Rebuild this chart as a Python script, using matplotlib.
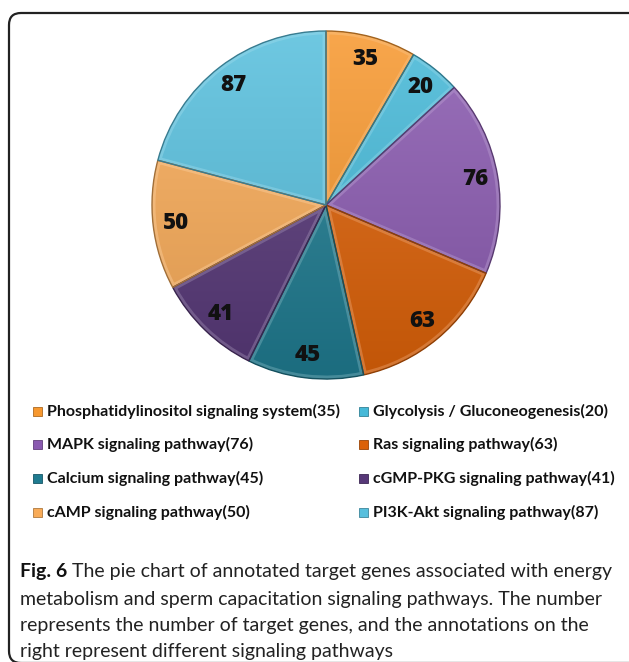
import matplotlib.pyplot as plt
import numpy as np
from matplotlib.patches import FancyBboxPatch, Rectangle, PathPatch
from matplotlib.colors import to_rgb

# pathways, gene counts and colours (clockwise from 12 o'clock)
pathways = ['Phosphatidylinositol signaling system', 'Glycolysis / Gluconeogenesis',
            'MAPK signaling pathway', 'Ras signaling pathway',
            'Calcium signaling pathway', 'cGMP-PKG signaling pathway',
            'cAMP signaling pathway', 'PI3K-Akt signaling pathway']
genes = [35, 20, 76, 63, 45, 41, 50, 87]
colors = ['#F7982F', '#46B9D8', '#8A5AB0', '#DC6108',
          '#1F7B90', '#573878', '#F8AB58', '#57BFDD']

caption_bold = 'Fig. 6'
caption = ['The pie chart of annotated target genes associated with energy',
           'metabolism and sperm capacitation signaling pathways. The number',
           'represents the number of target genes, and the annotations on the',
           'right represent different signaling pathways']

W, H = 629, 662
fig = plt.figure(figsize=(W / 100, H / 100), dpi=100)
ax = fig.add_axes([0, 0, 1, 1])

cx, cy, r = 326, H - 205, 174


def shade(c, f):
    c = np.array(to_rgb(c))
    if f > 0:
        return tuple(c + (1 - c) * f)
    return tuple(c * (1 + f))


wedges, _ = ax.pie(genes, colors=colors, startangle=90, counterclock=False,
                   center=(cx, cy), radius=r, frame=True,
                   wedgeprops=dict(edgecolor='none'))
ax.set_xlim(0, W)
ax.set_ylim(0, H)
ax.set_aspect('auto')
ax.axis('off')

# rounded frame, right side runs past the canvas
frame = FancyBboxPatch((9, -1), 640, H - 13 + 1, boxstyle='round,pad=0,rounding_size=12',
                       fc='none', ec='#222222', lw=1.6, zorder=0)
ax.add_patch(frame)

# vertical gradient inside each slice, plus a soft bevel on the edges
yy = np.linspace(0, 1, 200)[:, None]
for w, c, g in zip(wedges, colors, genes):
    top, bot = np.array(shade(c, 0.14)), np.array(shade(c, -0.12))
    grad = (top * (1 - yy)[..., None] + bot * yy[..., None]).repeat(2, axis=1)
    im = ax.imshow(grad, extent=(cx - r, cx + r, cy - r, cy + r), origin='upper',
                   aspect='auto', zorder=1.5, interpolation='bilinear')
    im.set_clip_path(w)
    w.set_zorder(1)
    glow = PathPatch(w.get_path(), transform=w.get_transform(), fill=False,
                     ec=shade(c, 0.4), lw=5, alpha=0.45, zorder=1.8)
    ax.add_patch(glow)
    glow.set_clip_path(w)
    ax.add_patch(PathPatch(w.get_path(), transform=w.get_transform(), fill=False,
                           ec=shade(c, -0.35), lw=1.0, zorder=2))
    # value label at the middle of the slice
    mid = np.deg2rad((w.theta1 + w.theta2) / 2)
    ax.text(cx + 0.87 * r * np.cos(mid), cy + 0.87 * r * np.sin(mid), str(g),
            fontsize=16, fontweight='heavy', family=['Open Sans', 'Lato'],
            ha='center', va='center', color='#111111', zorder=3)

# two-column legend
col_x = [37, 363]
row_y = [H - 411, H - 444, H - 478, H - 512]
for i, (name, g, c) in enumerate(zip(pathways, genes, colors)):
    x, y = col_x[i % 2], row_y[i // 2]
    ax.add_patch(Rectangle((x - 4.5, y - 4.5), 9, 9, fc=c, ec=shade(c, -0.3), lw=0.6))
    ax.text(x + 10, y, f'{name}({g})', fontsize=11.5, fontweight='bold', family='Lato',
            ha='left', va='center', color='#111111')

# caption
cap_y = [H - 572, H - 599, H - 625, H - 651]
tb = ax.text(20, cap_y[0], caption_bold, fontsize=14, fontweight='bold', family='Lato',
             ha='left', va='center', color='#111111')
fig.canvas.draw()
bb = tb.get_window_extent()
ax.text(bb.x1 + 5, cap_y[0], caption[0], fontsize=14, family='Lato',
        ha='left', va='center', color='#222222')
for line, y in zip(caption[1:], cap_y[1:]):
    ax.text(20, y, line, fontsize=14, family='Lato', ha='left', va='center', color='#222222')

fig.savefig('out.png', dpi=100)
